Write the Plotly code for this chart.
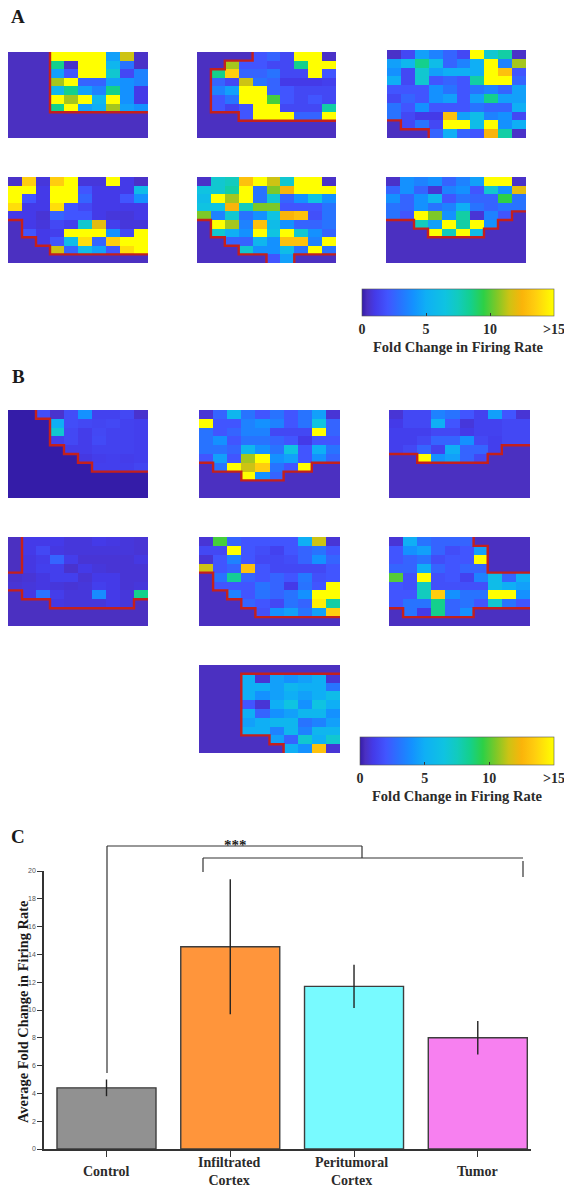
import plotly.graph_objects as go

W, H = 564, 1187
D = 0.4   # dark "no activity" level
Y = 15    # saturated level

A1 = [
 [D,D,D,Y,Y,Y,Y,4.5,11.5,.5],
 [D,D,D,8.5,.5,Y,Y,5.5,3,.5],
 [D,D,D,4.5,2,Y,Y,7,1.5,3.5],
 [D,D,D,11,Y,2.5,2.5,4.5,4,3.5],
 [D,D,D,5.5,8.5,4.5,3.5,8.5,4,1],
 [D,D,D,Y,11,Y,5.5,Y,4,1],
 [D,D,D,8.5,Y,4.5,5,11,4.5,4],
 [D]*10, [D]*10, [D]*10,
]
A2 = [
 [D,D,D,D,2,2.5,1.5,Y,Y,.5],
 [D,D,11,2,2,1.5,1.5,8.5,Y,Y],
 [D,8.5,13.5,2.5,2.5,3,1.5,1.5,Y,2],
 [D,2.5,1.5,11.5,3,2.5,1,1,1,1.2],
 [D,3.5,4.5,Y,Y,2.5,2,1.5,1.5,1.5],
 [D,2,3,Y,Y,9.8,2,1.5,2,1.5],
 [D,2,1.3,2,Y,Y,1.5,1.5,1.5,8],
 [D,D,D,2,Y,Y,Y,2.5,2.5,Y],
 [D]*10, [D]*10,
]
A3 = [
 [.5,1.5,4.5,3.5,2.5,1.5,Y,7,8,.5],
 [4.5,5.5,8.5,6,2.5,3.5,5,Y,3.5,11],
 [4,1.5,7,4.5,5,5,5,Y,13,2],
 [5,1.5,7,2,2.5,2,8,Y,Y,2.5],
 [2,2,2,4,3,2,3,3.5,2.5,4.5],
 [1.5,2.5,2,4,4.5,2,4.5,8.5,4.5,4.5],
 [3,2,4,2,2,2,3,2.5,2.5,5],
 [3,1.5,1,1,13,4.5,6,3.5,4,1.5],
 [D,1.5,3,1.5,Y,Y,6,Y,4,5],
 [D,D,D,2.5,5,2.5,2,12.5,8,.5],
]
A4 = [
 [.5,13.5,.8,13.5,Y,.8,.8,Y,1,.5],
 [Y,Y,1,Y,Y,2,1,1,1,6],
 [Y,2,1,Y,Y,2.5,1,1,2,4],
 [14,1,1,14,2,1.5,1,1,1,1],
 [1,1,.7,2.5,2,2,1,.8,.8,1],
 [D,1,.8,1.5,1.2,7,12,1.2,.8,.8],
 [D,2,1,1.2,Y,Y,Y,4,1.5,Y],
 [D,D,1,2,6,14,2.5,13.5,Y,Y],
 [D,D,D,11.5,2.5,6,4.5,2,14,Y],
 [D]*10,
]
A5 = [
 [.5,7,7.5,13,Y,11.5,7,Y,Y,.5],
 [6.5,7,8,Y,3,10.5,12.5,Y,Y,Y],
 [6,Y,11,Y,3,7,2.5,4,6.5,4],
 [6.5,6.5,12.5,7.5,10.5,10.5,2,2,2,3],
 [10.5,3.5,7,3,4,6.5,12.5,13,1.8,3],
 [D,Y,11,3.5,13,6,4,2.5,2.5,3],
 [D,7,5,4,Y,6.5,Y,7,4,2.5],
 [D,D,2.5,2.5,5.5,4,13,13,3.5,Y],
 [D,D,D,7,4,4,6,3,Y,3],
 [D,D,D,D,D,2,4.5,D,D,D],
]
A6 = [
 [.5,4,3.5,4,2.5,3.5,4.5,Y,Y,.5],
 [2.5,4,2.5,.7,3.5,4,2,7,4,12],
 [4,2.5,4,5.5,2,3,2.5,2.5,9.5,3],
 [3,2.5,4,3,3.5,5,3,2.5,3,3],
 [3,2,Y,10.5,4,8,.7,3.5,2,D],
 [D,D,7.5,4.5,Y,8,Y,4,D,D],
 [D,D,D,Y,7.5,Y,6,D,D,D],
 [D]*10, [D]*10, [D]*10,
]
B1 = [
 [0,0,1.7,.6,1.7,4,1.3,1.3,1.5,.6],
 [0,0,0,5,1.7,1.5,1.4,1.5,1.3,1.2],
 [0,0,0,7,1.5,1.1,1.5,1.3,1.3,1.2],
 [0,0,0,1.2,1.5,1.1,1.6,1.3,1.3,1.2],
 [0,0,0,0,1.1,1.1,1.3,1.3,1.3,1.2],
 [0,0,0,0,0,.9,1.1,1.2,1.1,1.2],
 [0,0,0,0,0,0,1.2,1.2,1.2,1.4],
 [0]*10, [0]*10, [0]*10,
]
B2 = [
 [.7,2.5,5.5,3,2,3,2,3,4.5,.7],
 [Y,2,2,3.5,4,3.5,2,3,6.5,2.5],
 [3,2,2.5,3.5,3.5,1.5,1.5,1.5,Y,2.5],
 [3,4,2,3,3,2.5,2,1,2,2],
 [3,3,2.5,5.5,4,3,6.5,2,5,3],
 [2,4.5,2,11,Y,4,4.5,2,4,2.5],
 [D,3,Y,11.5,13.5,3,2,Y,D,D],
 [D,D,D,Y,4,2.5,D,D,D,D],
 [D]*10, [D]*10,
]
B3 = [
 [.7,1.5,1.5,3.5,3,2,1.3,4.5,2,.7],
 [1,1.5,1.5,5,2,.8,1.3,1.3,1.5,1.5],
 [1.2,1.2,1.2,1.5,1.5,1,1.3,1.3,1.5,1.5],
 [1.2,1.2,1.5,2.5,2.5,4,1.5,1.2,1.5,1.5],
 [1.2,1.5,2.5,1.3,5,2.5,2.5,1.2,D,D],
 [D,D,Y,4,4.5,2.5,1.5,D,D,D],
 [D]*10, [D]*10, [D]*10, [D]*10,
]
B4 = [
 [D,1,1,1,.8,.8,1,.9,.8,.7],
 [D,1,1.5,.9,.8,.8,.8,.8,.8,.7],
 [D,.9,1.1,2.5,1.1,.7,.7,.7,.7,.9],
 [D,.9,1.2,1.2,.6,1,.8,.7,.7,.7],
 [.6,.7,.9,1.2,1.2,.7,1,1,.7,.7],
 [.7,.8,.9,.8,.7,.8,1.2,1,.7,.8],
 [D,.9,3,1.1,.8,.8,3.8,1,.8,8.5],
 [D,D,D,.9,.8,.8,.8,1,.8,D],
 [D]*10, [D]*10,
]
B5 = [
 [.7,9.8,2.5,2,2,2,2,5,11.5,.7],
 [1.5,1.5,Y,2,1.7,1.3,2,2.5,3,2],
 [.7,2,3.5,2,1.5,1.5,1.7,2.5,4,2.5],
 [11.5,2,2.5,13,2,1.5,1.5,1.5,1.5,2],
 [D,3,8.3,2.5,2,2.5,2,3.2,1.8,2],
 [D,2,2,2,3,2.5,1,3,2,Y],
 [D,D,3.5,2,3,2.5,3,4,Y,Y],
 [D,D,D,2.5,2,1.5,3,2.5,14.5,8],
 [D,D,D,D,1.8,4,4.5,3,4.5,13.5],
 [D]*10,
]
B6 = [
 [.7,5,3,2.5,2.5,2.5,D,D,D,D],
 [2,4,4.5,2.5,1.7,2,4.5,D,D,D],
 [2,2.5,3,1.7,2,2,Y,D,D,D],
 [2.5,2.5,5,2.5,2,2.5,2.5,D,D,D],
 [10,1.8,Y,1.8,2,1.3,3.5,6,2.5,5],
 [2,1.8,7.5,1.8,1.8,1.8,1.8,6,5,4.5],
 [2,2,7.5,13.5,4,3,3,Y,Y,4],
 [2,3,3,8.5,2.5,3,2,7,3,2],
 [D,3,1,8.5,2.5,4,D,D,D,D],
 [D]*10,
]
B7 = [
 [D]*10,
 [D,D,D,5,.7,4.5,4,4.5,5,.7],
 [D,D,D,5,5,4.5,5.5,5,5,3],
 [D,D,D,5,4,4.5,5,4.5,5,6],
 [D,D,D,2,.7,5,6.5,4,6.5,5],
 [D,D,D,5,2.5,4,4.5,5.5,5.5,4],
 [D,D,D,4.5,5,5.5,5.5,3,3.5,4.5],
 [D,D,D,5,5,3.5,5.5,3.5,5.5,5.5],
 [D,D,D,D,D,4.5,2.5,7,5,7],
 [D,D,D,D,D,D,5,4,13,.7],
]

# tumour boundaries, in grid units (column edge, row edge)
A1_EDGE = [[(3,0),(3,7),(10,7)]]
A2_EDGE = [[(4,0),(4,1),(2,1),(2,2),(1,2),(1,7),(3,7),(3,8),(10,8)]]
A3_EDGE = [[(0,8),(1,8),(1,9),(3,9),(3,10)]]
A4_EDGE = [[(0,5),(1,5),(1,7),(2,7),(2,8),(3,8),(3,9),(10,9)]]
A5_EDGE = [[(0,5),(1,5),(1,7),(2,7),(2,8),(3,8),(3,9),(5,9),(5,10)], [(7,10),(7,9),(10,9)]]
A6_EDGE = [[(0,5),(2,5),(2,6),(3,6),(3,7),(7,7),(7,6),(8,6),(8,5),(9,5),(9,4),(10,4)]]
B1_EDGE = [[(2,0),(2,1),(3,1),(3,4),(4,4),(4,5),(5,5),(5,6),(6,6),(6,7),(10,7)]]
B2_EDGE = [[(0,6),(1,6),(1,7),(3,7),(3,8),(6,8),(6,7),(8,7),(8,6),(10,6)]]
B3_EDGE = [[(0,5),(2,5),(2,6),(7,6),(7,5),(8,5),(8,4),(10,4)]]
B4_EDGE = [[(1,0),(1,4),(0,4)], [(0,6),(1,6),(1,7),(3,7),(3,8),(9,8),(9,7),(10,7)]]
B5_EDGE = [[(0,4),(1,4),(1,6),(2,6),(2,7),(3,7),(3,8),(4,8),(4,9),(10,9)]]
B6_EDGE = [[(6,0),(6,1),(7,1),(7,4),(10,4)], [(0,8),(1,8),(1,9),(6,9),(6,8),(10,8)]]
B7_EDGE = [[(10,1),(3,1),(3,8),(5,8),(5,9),(6,9),(6,10)]]

GROUPS = ["Control", "Infiltrated<br>Cortex", "Peritumoral<br>Cortex", "Tumor"]
MEANS = [4.4, 14.55, 11.7, 8.0]
ERRORS = [0.6, 4.85, 1.55, 1.2]
BAR_COLORS = ["#919191", "#FF953B", "#78FAFF", "#F780F0"]
CB_TICKS = [0, 5, 10, 15]
CB_LABELS = ["0", "5", "10", ">15"]

SCALE_PTS = [(0,(52,28,168)),(.4,(75,48,193)),(1,(68,58,232)),(2,(65,85,255)),(3,(40,115,255)),
             (4,(20,145,255)),(5,(15,175,245)),(6.5,(15,195,225)),(7.5,(18,203,190)),(8.5,(20,208,140)),
             (9.5,(45,208,70)),(10.5,(125,200,40)),(11.5,(205,195,20)),(12.5,(250,180,10)),
             (13.5,(255,205,15)),(15,(255,255,0))]
COLORSCALE = [[v/15, f"rgb{c}"] for v, c in SCALE_PTS]

SERIF = "Liberation Serif"
RED = "#C4201C"
INK = "#2b2b2b"

PANELS = [
 (A1, A1_EDGE, (8,148,52,138)), (A2, A2_EDGE, (197,336,52,138)), (A3, A3_EDGE, (387,526,50,138)),
 (A4, A4_EDGE, (8,148,177,263)), (A5, A5_EDGE, (197,336,177,263)), (A6, A6_EDGE, (386,526,177,263)),
 (B1, B1_EDGE, (8,148,410,498)), (B2, B2_EDGE, (199,340,410,498)), (B3, B3_EDGE, (389,530,410,498)),
 (B4, B4_EDGE, (8,148,537,626)), (B5, B5_EDGE, (199,340,537,626)), (B6, B6_EDGE, (389,530,537,626)),
 (B7, B7_EDGE, (199,340,665,753)),
]
COLORBARS = {0: (362, 554, 289, 316), 6: (360, 554, 737, 765)}

def fx(p): return p / W
def fy(p): return 1 - p / H

fig = go.Figure()
layout = {}
for i, (grid, edges, (x0, x1, y0, y1)) in enumerate(PANELS):
    n = i + 1
    xa, ya = f"x{n}", f"y{n}"
    hm = dict(z=grid, x0=0.5, dx=1, y0=0.5, dy=1, zmin=0, zmax=15, colorscale=COLORSCALE,
              zsmooth=False, xaxis=xa, yaxis=ya, showscale=False, hoverinfo="skip")
    if i in COLORBARS:
        cx0, cx1, cy0, cy1 = COLORBARS[i]
        hm["showscale"] = True
        hm["colorbar"] = dict(
            orientation="h", x=fx(cx0), y=fy(cy0), xanchor="left", yanchor="top",
            lenmode="pixels", len=cx1 - cx0, thicknessmode="pixels", thickness=cy1 - cy0,
            xpad=0, ypad=0, outlinecolor="#555", outlinewidth=0.6,
            tickmode="array", tickvals=CB_TICKS, ticktext=CB_LABELS, ticks="inside",
            ticklen=3, tickwidth=0.6, tickcolor="#333", ticklabeloverflow="allow",
            tickfont=dict(family=SERIF, size=14, color=INK, weight=700),
            title=dict(text="Fold Change in Firing Rate", side="bottom",
                       font=dict(family=SERIF, size=14.5, color=INK, weight=700)),
        )
    fig.add_trace(go.Heatmap(**hm))
    for seg in edges:
        fig.add_trace(go.Scatter(x=[p[0] for p in seg], y=[p[1] for p in seg], mode="lines",
                                 line=dict(color=RED, width=2.4, shape="linear"), xaxis=xa, yaxis=ya,
                                 cliponaxis=False, showlegend=False, hoverinfo="skip"))
    layout[f"xaxis{n}"] = dict(domain=[fx(x0), fx(x1)], range=[0, 10], visible=False, anchor=ya, fixedrange=True)
    layout[f"yaxis{n}"] = dict(domain=[fy(y1), fy(y0)], range=[10, 0], visible=False, anchor=xa, fixedrange=True)

# bar chart
n = len(PANELS) + 1
bx, by = f"x{n}", f"y{n}"
fig.add_trace(go.Bar(x=GROUPS, y=MEANS, marker=dict(color=BAR_COLORS, line=dict(color="#3d3d3d", width=1.4)),
                     error_y=dict(type="data", array=ERRORS, visible=True, width=0, thickness=1.4, color="#222"),
                     width=0.8, xaxis=bx, yaxis=by, showlegend=False, hoverinfo="skip"))
layout[f"xaxis{n}"] = dict(domain=[fx(44), fx(531)], range=[-0.505, 3.43], anchor=by, type="category",
                           categoryorder="array", categoryarray=GROUPS, showline=True, linecolor="#333",
                           linewidth=1.5, ticks="outside", ticklen=6, tickwidth=1, tickcolor="#333",
                           showgrid=False, showticklabels=False)
layout[f"yaxis{n}"] = dict(domain=[fy(1149), fy(871)], range=[0, 20], dtick=2, anchor=bx, showline=True,
                           linecolor="#333", linewidth=1.5, ticks="outside", ticklen=5, tickwidth=1,
                           tickcolor="#333", showgrid=False, tickfont=dict(family="Liberation Sans", size=7, color="#555"))

# significance brackets
def seg(x0, y0, x1, y1):
    return dict(type="line", xref="paper", yref="paper", x0=fx(x0), x1=fx(x1), y0=fy(y0), y1=fy(y1),
                line=dict(color="#333", width=1.2))
layout["shapes"] = [seg(107, 1073, 107, 846), seg(107, 846, 362, 846), seg(362, 846, 362, 858),
                    seg(203, 858, 523, 858), seg(203, 858, 203, 872), seg(523, 861, 523, 877)]

def note(text, x, y, size, family=SERIF, weight=700, angle=0):
    return dict(text=text, xref="paper", yref="paper", x=fx(x), y=fy(y), showarrow=False, textangle=angle,
                xanchor="center", yanchor="middle", font=dict(family=family, size=size, color="#1a1a1a", weight=weight))
layout["annotations"] = [note("A", 18, 16.5, 19), note("B", 18, 376, 19), note("C", 18, 836, 19),
                         note("***", 235, 845, 15),
                         note("Average Fold Change in Firing Rate", 23, 1012, 14.4, angle=-90)]
for g, dx in zip(GROUPS, [0, -1, -3, 0]):
    layout["annotations"].append(dict(text=g, xref=bx, yref="paper", x=g, y=fy(1171.5), xshift=dx, showarrow=False,
                                      xanchor="center", yanchor="middle",
                                      font=dict(family=SERIF, size=14, color=INK, weight=700)))

fig.update_layout(width=W, height=H, margin=dict(l=0, r=0, t=0, b=0, autoexpand=False), autosize=False,
                  paper_bgcolor="white", plot_bgcolor="white", showlegend=False, bargap=0.2, **layout)
fig.write_html("out.html", post_script="document.body.style.margin='0';", config={"displayModeBar": False})
